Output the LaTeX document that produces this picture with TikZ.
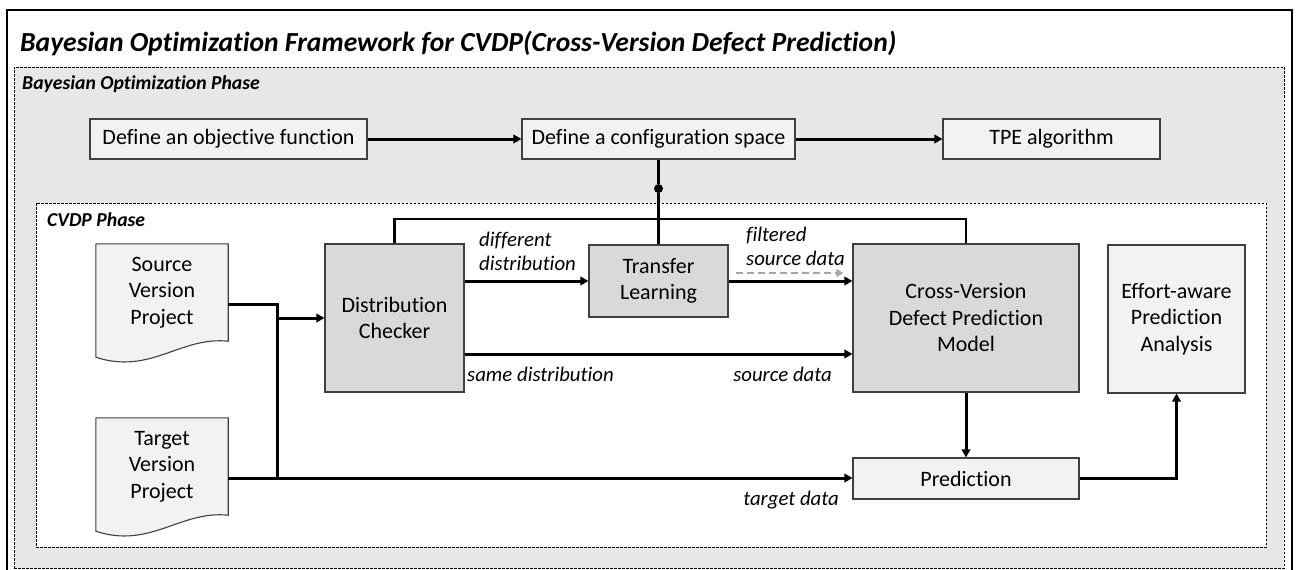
\documentclass[tikz,border=0pt]{standalone}
\usepackage{fontspec}
\setmainfont{Carlito}[RawFeature={-liga}]
\usetikzlibrary{arrows.meta,calc}
\definecolor{phasegray}{HTML}{E7E7E7}
\definecolor{boxlight}{HTML}{F2F2F2}
\definecolor{boxdark}{HTML}{D9D9D9}
\definecolor{edgegray}{HTML}{404040}
\definecolor{dashgray}{HTML}{A6A6A6}
\pgfdeclarelayer{paper}
\pgfsetlayers{paper,main}
\begin{document}
\begin{tikzpicture}[x=1pt,y=-1pt,
  box/.style={draw=edgegray, line width=1.1pt, align=center, inner sep=0pt,
    font=\fontsize{22}{26.5}\selectfont},
  lightbox/.style={box, fill=boxlight},
  darkbox/.style={box, fill=boxdark},
  docnode/.style={minimum width=132, minimum height=97, align=center, inner sep=0pt,
    font=\fontsize{22}{26.5}\selectfont},
  docshape/.style={draw=edgegray, line width=1.1pt, fill=boxlight},
  wire/.style={line width=3pt, draw=black},
  thinwire/.style={line width=2.2pt, draw=black},
  flow/.style={wire, -{Triangle[length=8pt,width=8.5pt]}},
  dashflow/.style={line width=2.4pt, draw=dashgray, dash pattern=on 7pt off 4pt,
    -{Triangle[length=7pt,width=7.5pt]}},
  phase/.style={draw=black, line width=0.8pt, dash pattern=on 2.5pt off 1.5pt, inner sep=0pt},
  phaselabel/.style={anchor=west, inner sep=0pt, font=\fontsize{19.7}{22}\selectfont\bfseries\itshape},
  edgelabel/.style={inner sep=0pt, align=left, font=\fontsize{20.8}{24}\selectfont\itshape},
]
\useasboundingbox (0,0) rectangle (1296,570);
\clip (0,0) rectangle (1296,570);

% page, outer frame and the two phase areas
\begin{pgfonlayer}{paper}
  \fill[white] (0,0) rectangle (1296,570);
  \draw[line width=1.3pt] (7,10) rectangle (1292,620);
  \node[phase, fill=phasegray, minimum width=1270, minimum height=501] (bophase) at (649,317.5) {};
  \node[phase, fill=white, minimum width=1230, minimum height=344] (cvdpphase) at (651,375) {};
\end{pgfonlayer}

\node[anchor=base west, inner sep=0pt, font=\fontsize{27.6}{32}\selectfont\bfseries\itshape]
  (title) at (20,51) {Bayesian Optimization Framework for CVDP(Cross-Version Defect Prediction)};
\node[phaselabel] (bolabel) at (22,84) {Bayesian Optimization Phase};
\node[phaselabel] (cvdplabel) at (47,220) {CVDP Phase};

% optimisation row
\node[lightbox, minimum width=277, minimum height=40] (obj) at (228.5,139) {Define an objective function};
\node[lightbox, minimum width=273, minimum height=40] (cfg) at (658.5,139) {Define a configuration space};
\node[lightbox, minimum width=217, minimum height=40] (tpe) at (1051.5,139) {TPE algorithm};

% CVDP components
\node[docnode] (src) at (162,292.5) {Source\\Version\\Project};
\node[docnode] (tgt) at (162,466.5) {Target\\Version\\Project};
\node[darkbox, minimum width=139, minimum height=148] (dc) at (394.5,318) {Distribution\\Checker};
\node[darkbox, minimum width=139, minimum height=72] (tl) at (658.5,281) {Transfer\\Learning};
\node[darkbox, minimum width=226, minimum height=148] (model) at (966,318) {Cross-Version\\Defect Prediction\\Model};
\node[lightbox, minimum width=137, minimum height=148] (effort) at (1176.5,319) {Effort-aware\\Prediction\\Analysis};
\node[lightbox, minimum width=226, minimum height=41] (pred) at (966,478.5) {Prediction};

% document outlines with a wavy lower edge
\begin{pgfonlayer}{paper}
  \foreach \d in {src,tgt}
    \draw[docshape] (\d.north west) -- (\d.north east) -- (\d.south east)
      .. controls ($(\d.south east)+(-48,-5)$) and ($(\d.south east)+(-78,34)$)
      .. ($(\d.south west)+(0,16)$) -- cycle;
\end{pgfonlayer}

% optimisation flow
\draw[flow] (obj.east) -- (cfg.west);
\draw[flow] (cfg.east) -- (tpe.west);
\node[circle, fill=black, inner sep=0pt, minimum size=9pt] (knot) at ($(cfg.south)+(0,29)$) {};
\draw[thinwire] (cfg.south) -- (knot) -- (tl.north);
\coordinate (loop) at (394.5,219);
\draw[thinwire] (dc.north) |- (model.north |- loop) -- (model.north);

% input data bus
\coordinate (bustop) at (277,304);
\coordinate (bus) at (277,478);
\draw[wire] ($(src.east)+(0,11.5)$) -- (bustop) -- (bus);
\draw[flow] (tgt.east |- bus) -- (pred.west |- bus);
\draw[flow] (bustop |- dc.west) -- (dc.west);

% distribution checker outputs
\draw[flow] (dc.east |- tl.west) -- (tl.west);
\coordinate (same) at ($(dc.east)+(0,36)$);
\draw[flow] (same) -- (model.west |- same);
\draw[flow] (tl.east) -- (model.west |- tl.east);
\draw[dashflow] ($(tl.east)+(7,-8)$) -- ($(model.west |- tl.east)+(-9,-8)$);

% prediction path
\draw[flow] (model.south) -- (pred.north);
\draw[flow] (pred.east) -| (effort.south);

% connector labels
\node[edgelabel, anchor=west] (ldiff) at (479,251) {different\\distribution};
\node[edgelabel, anchor=west] (lfilt) at (746,246) {filtered\\source data};
\node[edgelabel, anchor=west] (lsame) at (467,374) {same distribution};
\node[edgelabel, anchor=east] (lsrc) at (832,374) {source data};
\node[edgelabel, anchor=east] (ltgt) at (839,500) {target data};
\end{tikzpicture}
\end{document}
